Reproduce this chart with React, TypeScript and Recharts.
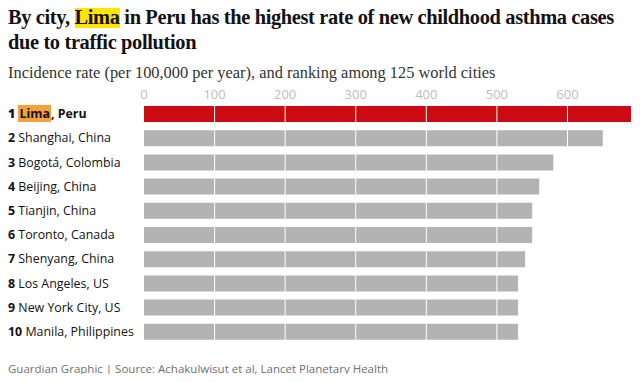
import React from "react";
import { BarChart, Bar, XAxis, YAxis, Cell, ReferenceLine } from "recharts";

const ranks = [1, 2, 3, 4, 5, 6, 7, 8, 9, 10];
const cities = ["Lima", "Shanghai", "Bogotá", "Beijing", "Tianjin", "Toronto", "Shenyang", "Los Angeles", "New York City", "Manila"];
const countries = ["Peru", "China", "Colombia", "China", "China", "Canada", "China", "US", "US", "Philippines"];
const rates = [690, 650, 580, 560, 550, 550, 540, 530, 530, 530];
const xTicks = [0, 100, 200, 300, 400, 500, 600];

const data = cities.map((c, i) => ({ name: c, rank: ranks[i], country: countries[i], rate: rates[i] }));

const SANS = "'Open Sans', 'Noto Sans', sans-serif";
const SERIF = "'Liberation Serif', 'DejaVu Serif', serif";

const CityTick = ({ y, index }: any) => {
  const d = data[index];
  if (!d) return null;
  const top = d.rank === 1;
  return (
    <foreignObject x={0} y={y - 11} width={144} height={22}>
      <div style={{ fontFamily: SANS, fontSize: 12.4, lineHeight: "22px", color: "#121212", paddingLeft: 8, whiteSpace: "nowrap", fontWeight: top ? 700 : 400 }}>
        <b>{d.rank}</b>{" "}
        {top ? <span style={{ background: "#f5a13d", padding: "0 1px" }}>{d.name}</span> : d.name}, {d.country}
      </div>
    </foreignObject>
  );
};

const ValueTick = ({ x, y, payload }: any) => (
  <text x={x} y={y} dy={5} textAnchor="middle" fill="#bdbdbd" fontSize={13} fontFamily={SANS}>
    {payload.value}
  </text>
);

export default function App() {
  return (
    <div style={{ position: "relative", width: 640, height: 382, margin: -8, background: "#fff", overflow: "hidden" }}>
      <div style={{ position: "absolute", left: 8, top: 5, whiteSpace: "nowrap", fontFamily: SERIF, fontWeight: 700, fontSize: 20.4, letterSpacing: -0.35, lineHeight: "25px", color: "#121212" }}>
        By city, <span style={{ background: "#ffe500" }}>Lima</span> in Peru has the highest rate of new childhood asthma cases
        <br />
        due to traffic pollution
      </div>
      <div style={{ position: "absolute", left: 8, top: 63, fontFamily: SERIF, fontSize: 16.4, color: "#333" }}>
        Incidence rate (per 100,000 per year), and ranking among 125 world cities
      </div>
      <div style={{ position: "absolute", left: 0, top: 0 }}>
        <BarChart width={640} height={382} data={data} layout="vertical" margin={{ top: 72, right: 9, bottom: 38, left: 0 }} barSize={16}>
          <XAxis type="number" orientation="top" domain={[0, 690]} ticks={xTicks} height={30} axisLine={false} tickLine={false} tick={<ValueTick />} allowDataOverflow />
          <YAxis type="category" dataKey="name" width={144} axisLine={false} tickLine={false} tick={<CityTick />} interval={0} />
          <Bar dataKey="rate" isAnimationActive={false}>
            {data.map((d, i) => (
              <Cell key={i} fill={d.rank === 1 ? "#cc0a11" : "#b3b3b3"} />
            ))}
          </Bar>
          {xTicks.slice(1).map((t) => (
            <ReferenceLine key={t} x={t} stroke="#ffffff" strokeWidth={1} />
          ))}
        </BarChart>
      </div>
      <div style={{ position: "absolute", left: 8, top: 361, fontFamily: SANS, fontSize: 11.5, lineHeight: "16px", color: "#707070" }}>
        Guardian Graphic | Source: Achakulwisut et al, Lancet Planetary Health
      </div>
    </div>
  );
}
